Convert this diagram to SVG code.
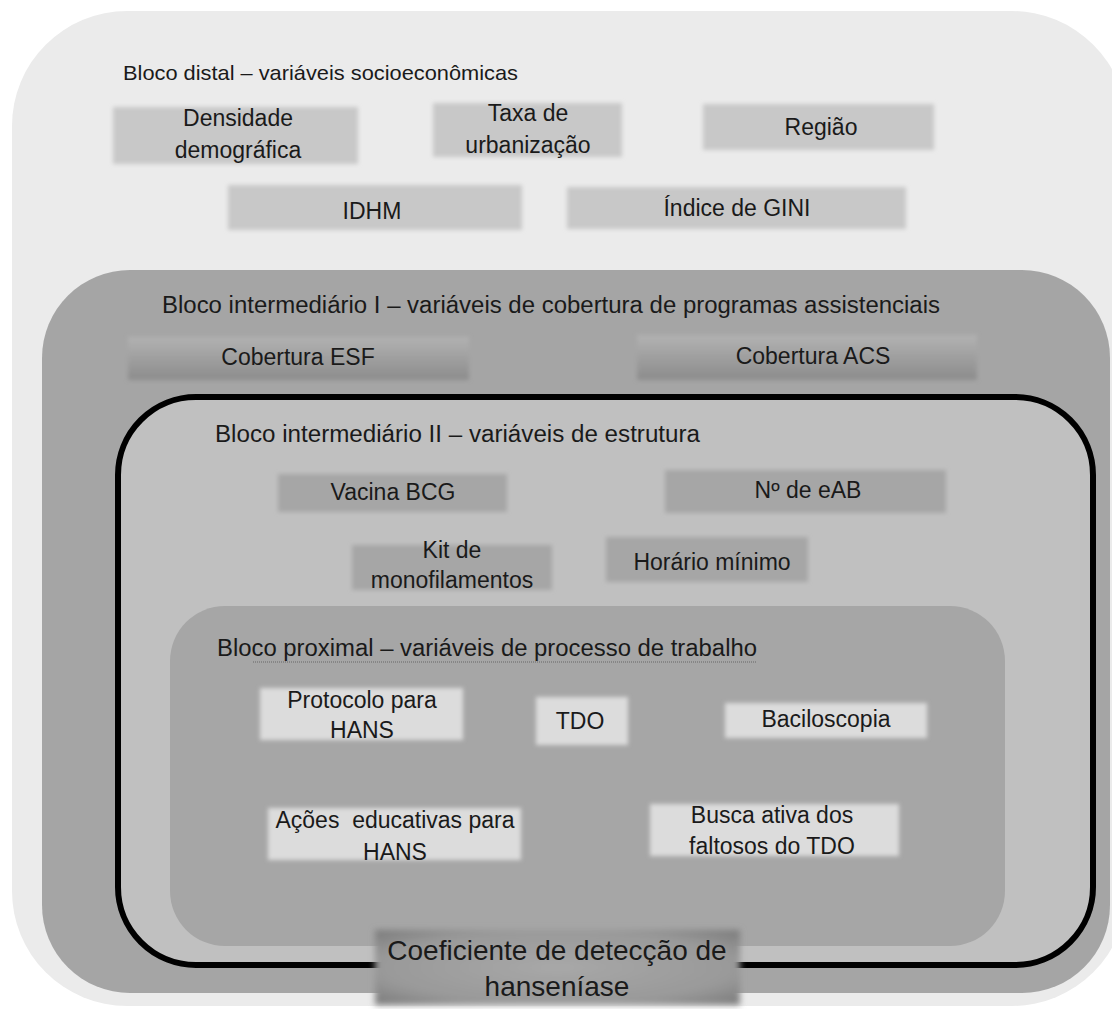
<svg xmlns="http://www.w3.org/2000/svg" width="1112" height="1009" viewBox="0 0 1112 1009">
<defs>
<filter id="soft" x="-10%" y="-20%" width="120%" height="140%"><feGaussianBlur stdDeviation="2"/></filter>
<filter id="soft4" x="-10%" y="-20%" width="120%" height="140%"><feGaussianBlur stdDeviation="3"/></filter>
<linearGradient id="gI" x1="0" y1="0" x2="0" y2="1"><stop offset="0" stop-color="#b2b2b2"/><stop offset="1" stop-color="#8c8c8c"/></linearGradient>
<radialGradient id="gC" cx="0.5" cy="0.5" r="0.7"><stop offset="0" stop-color="#a8a8a8"/><stop offset="0.7" stop-color="#999"/><stop offset="1" stop-color="#7a7a7a"/></radialGradient>
<style>
text{font-family:"Liberation Sans",Arial,sans-serif;fill:#1a1a1a;text-anchor:middle}
.t{font-size:21px;text-anchor:start}
.n{font-size:23px}
.nd{fill:#c8c8c8}
.n1{fill:url(#gI)}
.n2{fill:#a6a6a6}
.np{fill:#dcdcdc}
</style>
</defs>
<rect width="1112" height="1009" fill="#fff"/>
<g id="containers">
<rect id="bloco-distal" x="12" y="11" width="1115" height="995" rx="115" fill="#ebebeb"/>
<rect id="bloco-int1" x="42" y="270" width="1068" height="723" rx="88" fill="#a5a5a5"/>
<rect id="bloco-int2" x="118" y="397" width="975" height="568" rx="78" fill="#c0c0c0" stroke="#000" stroke-width="6"/>
<rect id="bloco-proximal" x="170" y="606" width="835" height="340" rx="55" fill="#a6a6a6"/>
</g>
<g id="titles">
<text class="t" x="123" y="80" textLength="395" lengthAdjust="spacingAndGlyphs">Bloco distal – variáveis socioeconômicas</text>
<text class="t" x="162" y="313" textLength="778" lengthAdjust="spacingAndGlyphs" style="font-size:23px">Bloco intermediário I – variáveis de cobertura de programas assistenciais</text>
<text class="t" x="215" y="442" textLength="485" lengthAdjust="spacingAndGlyphs" style="font-size:23px">Bloco intermediário II – variáveis de estrutura</text>
<text class="t" x="217" y="656" textLength="540" lengthAdjust="spacingAndGlyphs" style="font-size:23px">Bloco proximal – variáveis de processo de trabalho</text>
<line x1="253" y1="662" x2="757" y2="662" stroke="#666" stroke-width="1" stroke-dasharray="1 1"/>
</g>
<g id="connectors"/>
<g id="n-densidade"><rect class="nd" x="113" y="107" width="245" height="57" filter="url(#soft)"/><text class="n" x="238" y="126">Densidade</text><text class="n" x="238" y="158">demográfica</text></g>
<g id="n-taxa"><rect class="nd" x="433" y="103" width="189" height="54" filter="url(#soft)"/><text class="n" x="528" y="121">Taxa de</text><text class="n" x="528" y="153">urbanização</text></g>
<g id="n-regiao"><rect class="nd" x="703" y="104" width="231" height="46" filter="url(#soft)"/><text class="n" x="821" y="135">Região</text></g>
<g id="n-idhm"><rect class="nd" x="228" y="185" width="294" height="45" filter="url(#soft)"/><text class="n" x="372" y="219">IDHM</text></g>
<g id="n-gini"><rect class="nd" x="567" y="187" width="339" height="42" filter="url(#soft)"/><text class="n" x="737" y="216">Índice de GINI</text></g>
<g id="n-esf"><rect class="n1" x="128" y="337" width="341" height="43" filter="url(#soft)"/><text class="n" x="298" y="365">Cobertura ESF</text></g>
<g id="n-acs"><rect class="n1" x="637" y="335" width="340" height="45" filter="url(#soft)"/><text class="n" x="813" y="364">Cobertura ACS</text></g>
<g id="n-bcg"><rect class="n2" x="278" y="474" width="229" height="38" filter="url(#soft)"/><text class="n" x="393" y="500">Vacina BCG</text></g>
<g id="n-eab"><rect class="n2" x="665" y="470" width="281" height="43" filter="url(#soft)"/><text class="n" x="808" y="498">Nº de eAB</text></g>
<g id="n-kit"><rect class="n2" x="352" y="545" width="200" height="45" filter="url(#soft)"/><text class="n" x="452" y="558">Kit de</text><text class="n" x="452" y="588">monofilamentos</text></g>
<g id="n-horario"><rect class="n2" x="606" y="537" width="202" height="45" filter="url(#soft)"/><text class="n" x="712" y="570">Horário mínimo</text></g>
<g id="n-protocolo"><rect class="np" x="260" y="688" width="203" height="52" filter="url(#soft)"/><text class="n" x="362" y="708">Protocolo para</text><text class="n" x="362" y="738">HANS</text></g>
<g id="n-tdo"><rect class="np" x="536" y="697" width="92" height="48" filter="url(#soft)"/><text class="n" x="580" y="729">TDO</text></g>
<g id="n-baciloscopia"><rect class="np" x="725" y="703" width="202" height="35" filter="url(#soft)"/><text class="n" x="826" y="727">Baciloscopia</text></g>
<g id="n-acoes"><rect class="np" x="268" y="808" width="253" height="52" filter="url(#soft)"/><text class="n" x="395" y="828" xml:space="preserve">Ações  educativas para</text><text class="n" x="395" y="860">HANS</text></g>
<g id="n-busca"><rect class="np" x="650" y="804" width="249" height="52" filter="url(#soft)"/><text class="n" x="772" y="823">Busca ativa dos</text><text class="n" x="772" y="854">faltosos do TDO</text></g>
<g id="n-coeficiente"><rect x="375" y="930" width="365" height="75" fill="url(#gC)" filter="url(#soft4)"/><text x="557" y="960" style="font-size:28px">Coeficiente de detecção de</text><text x="557" y="996" style="font-size:28px">hanseníase</text></g>
</svg>
